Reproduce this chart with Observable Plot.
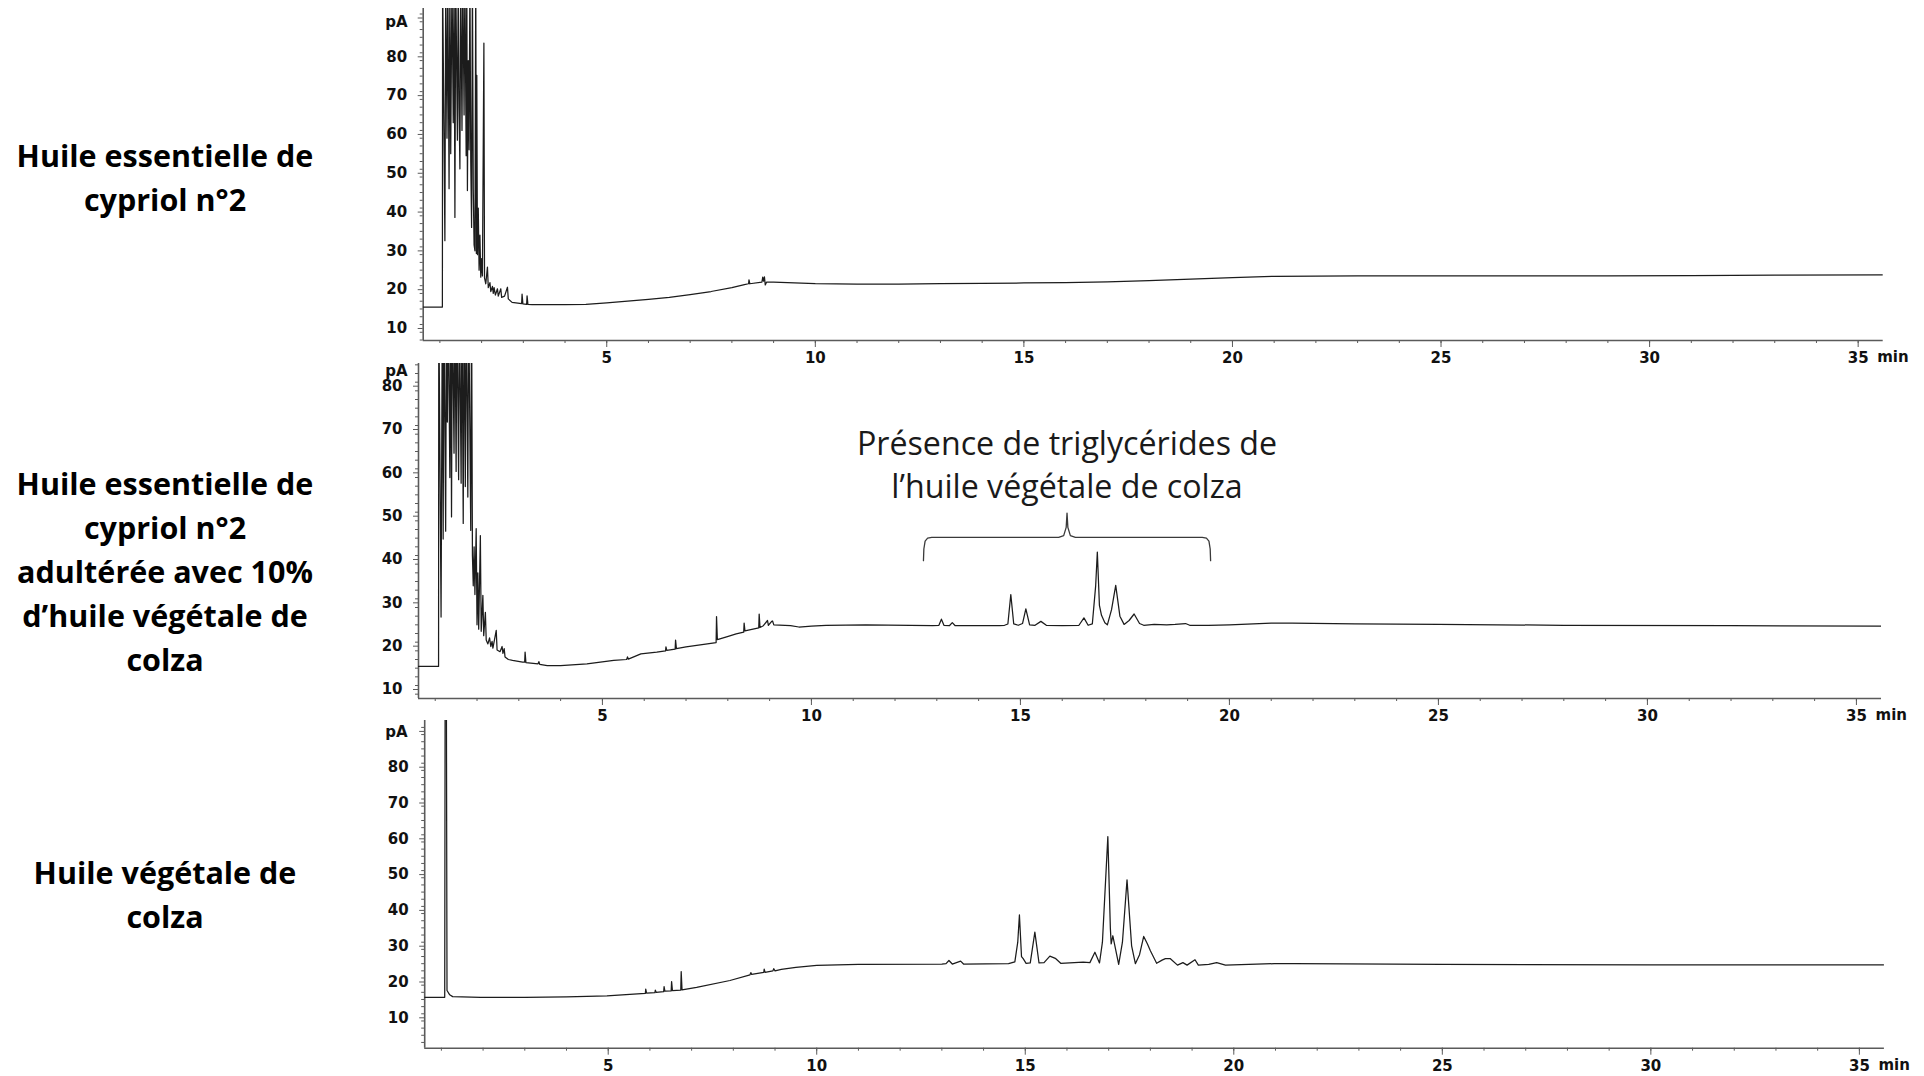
<!DOCTYPE html>
<html><head><meta charset="utf-8">
<script src="https://cdn.jsdelivr.net/npm/d3@7"></script>
<script src="https://cdn.jsdelivr.net/npm/@observablehq/plot@0.6"></script>
<style>
body{margin:0;background:#fff;}
#page{position:relative;width:1924px;height:1076px;overflow:hidden;background:#fff;}
.panel{position:absolute;left:0;}
.title{position:absolute;left:0;width:330px;text-align:center;font-family:"Open Sans",sans-serif;font-weight:700;font-size:30.5px;line-height:44px;color:#000;}
</style></head><body><div id="page"></div>
<script>
// ---- tick labels ----
const xMajorTicks = [5, 10, 15, 20, 25, 30, 35];
const xMinorTicks = d3.range(1, 36, 1);
const yMajorTicks = [10, 20, 30, 40, 50, 60, 70, 80, 90];
const yMinorTicks = d3.range(2, 92, 2);
const timeDomain = [0.6, 35.6]; // min

// ---- titles ----
const titleCypriol = ["Huile essentielle de", "cypriol n°2"];
const titleAdulterated = ["Huile essentielle de", "cypriol n°2", "adultérée avec 10%", "d’huile végétale de", "colza"];
const titleColza = ["Huile végétale de", "colza"];

// ---- annotation ----
const annotationLines = ["Présence de triglycérides de", "l’huile végétale de colza"];
const braceSpan = [12.68, 19.55]; // min

// ---- series: [time (min), signal (pA)] ----
const cypriol = [
[0.6,14.5],[1.06,14.5],[1.065,100],[1.12,31.6],[1.14,100],[1.17,58],[1.19,100],[1.22,45],[1.24,100],[1.26,54],
[1.29,100],[1.32,62],[1.34,100],[1.36,37.6],[1.38,100],[1.42,57.5],[1.44,100],[1.46,66],[1.48,50.1],[1.50,100],
[1.53,60],[1.55,100],[1.58,64],[1.60,100],[1.63,53.5],[1.645,100],[1.66,44.5],[1.68,78],[1.70,55],[1.72,100],
[1.74,52],[1.76,35],[1.78,100],[1.80,45],[1.82,30.5],[1.84,29],[1.86,100],[1.875,28.3],[1.885,74.2],[1.90,28],
[1.92,40],[1.94,24],[1.96,33],[1.98,22.2],[2.00,27],[2.02,22.5],[2.055,82.5],[2.07,22],[2.10,20.5],[2.14,24.8],
[2.16,19.5],[2.20,20.8],[2.22,18.5],[2.26,19.8],[2.28,18.0],[2.30,19.5],[2.33,17.6],[2.38,19.2],[2.40,17.3],[2.46,19.2],
[2.48,17.0],[2.55,17.3],[2.62,19.6],[2.64,16.6],[2.73,15.7],[2.96,15.4],[2.97,17.8],[2.99,15.3],[3.08,15.2],[3.09,17.4],
[3.11,15.2],[3.21,15.15],[3.5,15.1],[4.0,15.1],[4.5,15.2],[5.0,15.6],[5.5,16.0],[6.0,16.5],[6.5,17.0],[7.0,17.7],
[7.5,18.5],[8.0,19.5],[8.3,20.3],[8.40,20.5],[8.41,21.5],[8.43,20.5],[8.72,20.9],[8.74,22.2],[8.76,21.2],[8.78,22.3],
[8.80,20.2],[8.83,20.9],[9.0,20.9],[9.5,20.7],[10,20.5],[11,20.4],[12,20.4],[13,20.5],[14,20.6],[15,20.7],
[16,20.8],[17,21.0],[18,21.3],[19,21.7],[20,22.1],[21,22.4],[23,22.5],[25,22.5],[27,22.5],[29,22.5],
[31,22.6],[33,22.7],[35.6,22.8]
];
const adulterated = [
[0.6,14.4],[1.08,14.4],[1.085,100],[1.14,25.8],[1.17,100],[1.19,43.8],[1.21,100],[1.25,45.6],[1.27,100],[1.29,70.8],
[1.31,100],[1.35,58],[1.37,100],[1.39,48.9],[1.41,100],[1.45,63.6],[1.47,100],[1.50,59.4],[1.52,100],[1.56,57.5],
[1.58,100],[1.62,56.7],[1.64,100],[1.67,47.4],[1.69,100],[1.72,55.9],[1.74,100],[1.78,53.5],[1.80,100],[1.85,45.8],
[1.87,100],[1.89,40],[1.91,33],[1.93,42],[1.95,31],[1.98,46.2],[2.00,24],[2.02,36],[2.04,23],[2.08,44.6],
[2.10,22.5],[2.14,30.8],[2.16,21.5],[2.20,26.9],[2.22,20.5],[2.26,19.6],[2.30,21.0],[2.33,19.0],[2.36,20.2],[2.38,18.6],
[2.46,22.7],[2.48,18.2],[2.55,17.8],[2.60,19.0],[2.62,17.4],[2.65,18.5],[2.67,16.6],[2.75,16.0],[2.85,15.8],[3.09,15.4],
[3.14,15.4],[3.15,17.7],[3.17,15.3],[3.46,15.0],[3.48,15.5],[3.50,14.9],[3.68,14.6],[4.0,14.6],[4.63,15.0],[5.27,15.8],
[5.58,16.0],[5.60,16.6],[5.62,16.1],[5.92,17.3],[6.3,17.7],[6.51,18.0],[6.52,18.9],[6.54,18.1],[6.74,18.4],[6.75,20.5],
[6.77,18.5],[7.0,18.9],[7.51,19.6],[7.72,19.9],[7.73,25.9],[7.75,20.6],[7.99,21.3],[8.20,21.9],[8.38,22.3],[8.39,24.4],
[8.41,22.6],[8.74,23.3],[8.75,26.5],[8.77,23.4],[8.85,23.8],[8.95,25.0],[8.97,23.9],[9.05,24.8],[9.07,24.9],[9.10,24.0],
[9.5,23.8],[9.7,23.5],[10,23.7],[10.35,23.9],[11.3,24.0],[12.9,23.8],[13.05,23.9],[13.11,25.3],[13.17,23.9],[13.3,23.8],
[13.37,24.5],[13.44,23.8],[14.5,23.8],[14.62,23.9],[14.70,24.2],[14.77,31.0],[14.84,24.2],[14.95,23.9],[15.05,24.3],[15.13,27.7],
[15.22,24.0],[15.35,23.9],[15.49,24.8],[15.62,23.9],[16.0,23.8],[16.4,23.9],[16.52,25.6],[16.62,23.9],[16.72,24.2],[16.80,33.0],
[16.84,40.8],[16.89,28.5],[16.94,26.2],[17.02,24.5],[17.08,24.0],[17.18,27.5],[17.28,33.1],[17.38,26.0],[17.48,24.1],[17.60,25.0],
[17.72,26.5],[17.85,24.3],[17.95,23.9],[18.2,24.1],[18.5,24.0],[18.7,24.1],[18.95,24.3],[19.05,23.9],[19.5,23.9],[20.0,24.0],
[21.0,24.4],[21.5,24.4],[23,24.2],[25,24.1],[28,23.9],[32,23.8],[35.6,23.7]
];
const colza = [
[0.6,14.6],[1.08,14.6],[1.09,100],[1.12,100],[1.135,16.5],[1.2,15.3],[1.27,14.8],[1.94,14.6],[3.0,14.6],[4.0,14.7],
[4.97,15.0],[5.61,15.5],[5.89,15.7],[5.90,16.9],[5.92,15.8],[6.12,15.9],[6.13,16.6],[6.15,16.0],[6.33,16.2],[6.34,17.6],
[6.36,16.3],[6.51,16.4],[6.52,19.0],[6.54,16.5],[6.74,16.6],[6.75,21.8],[6.77,16.7],[7.12,17.4],[7.92,19.3],[8.4,20.9],
[8.42,21.5],[8.44,21.0],[8.73,21.6],[8.74,22.5],[8.76,21.6],[8.95,22.0],[8.97,22.6],[9.0,22.0],[9.15,22.4],[9.5,23.0],
[10.0,23.5],[11,23.8],[13,23.9],[13.1,24.0],[13.17,24.9],[13.25,23.9],[13.45,24.7],[13.52,23.9],[14.6,24.0],[14.75,24.5],
[14.82,30],[14.86,37.6],[14.91,26],[14.95,25.4],[15.02,24.1],[15.12,24.2],[15.23,32.8],[15.33,24.2],[15.45,24.3],[15.59,26.1],
[15.72,25.5],[15.85,24.1],[16.39,24.4],[16.55,24.3],[16.67,27.2],[16.78,24.2],[16.85,30],[16.98,59.5],[17.04,34],[17.06,29.5],
[17.10,31.8],[17.24,23.8],[17.33,30],[17.44,47.4],[17.55,29],[17.64,24.0],[17.74,26.5],[17.84,31.6],[17.93,29.5],[18.00,27.6],
[18.15,24.1],[18.28,25.0],[18.36,25.4],[18.48,25.4],[18.65,23.6],[18.78,24.3],[18.88,23.6],[19.07,25.1],[19.15,23.6],[19.4,23.8],
[19.59,24.3],[19.8,23.6],[20.97,24.0],[21.45,24.0],[25,23.8],[30,23.7],[35.6,23.7]
];

// ---- layout ----
const page = document.getElementById("page");
const axisColor = "#5a5a5a";
const panels = [
  {series: cypriol, title: titleCypriol, titleTop: 133, top: 0, height: 372, mt: 8, mb: 32, ml: 422.7, mr: 41.3, y: [5.877, 91.42], pAdy: 14},
  {series: adulterated, title: titleAdulterated, titleTop: 461, top: 345, height: 385, mt: 18, mb: 32, ml: 418, mr: 43, y: [7.0, 84.31], pAdy: 8, annotate: true},
  {series: colza, title: titleColza, titleTop: 850, top: 705, height: 371, mt: 15, mb: 28.3, ml: 424.2, mr: 40.1, y: [0.39, 91.93], pAdy: 12}
];

for (const p of panels) {
  const marks = [
    Plot.axisY(yMinorTicks.filter(v => v >= p.y[0] && v <= p.y[1]), {tickSize: 3, tickFormat: () => "", stroke: axisColor, label: null}),
    Plot.axisY(yMajorTicks.filter(v => v >= p.y[0] && v <= p.y[1]), {tickSize: 5, tickPadding: 11, dy: 4, stroke: axisColor, label: null, tickFormat: v => v === 90 ? "" : String(v)}),
    Plot.axisX(xMinorTicks, {tickSize: 3, tickFormat: () => "", stroke: axisColor, label: null}),
    Plot.axisX(xMajorTicks, {tickSize: 7, tickPadding: 5, stroke: axisColor, label: null}),
    Plot.ruleY([p.y[0]], {stroke: axisColor, strokeWidth: 1.6}),
    Plot.ruleX([timeDomain[0]], {stroke: axisColor, strokeWidth: 1.6}),
    Plot.line(p.series, {x: d => d[0], y: d => d[1], stroke: "#1c1c1c", strokeWidth: 1.25, clip: true}),
    Plot.text(["pA"], {text: d => d, frameAnchor: "top-left", textAnchor: "middle", lineAnchor: "middle", dx: 396 - p.ml, dy: p.pAdy}),
    Plot.text(["min"], {text: d => d, frameAnchor: "bottom-right", textAnchor: "start", lineAnchor: "middle", dx: -6, dy: 17})
  ];
  if (p.annotate) {
    const [b0, b1] = braceSpan;
    const mid = (b0 + b1) / 2;
    const lo = 38.8, bar = 44.2, tip = 49.8;
    const brace = [
      [b0, lo], [b0 + 0.01, 41.5], [b0 + 0.04, 43.3], [b0 + 0.1, 44.0], [b0 + 0.2, bar],
      [mid - 0.2, bar], [mid - 0.08, 44.6], [mid - 0.02, 46.5], [mid, tip], [mid + 0.02, 46.5], [mid + 0.08, 44.6], [mid + 0.2, bar],
      [b1 - 0.2, bar], [b1 - 0.1, 44.0], [b1 - 0.04, 43.3], [b1 - 0.01, 41.5], [b1, lo]
    ];
    marks.push(Plot.line(brace, {x: d => d[0], y: d => d[1], stroke: "#3a3a3a", strokeWidth: 1.3}));
    marks.push(Plot.text([annotationLines.join("\n")], {
      text: d => d, x: () => mid, y: () => 61.5, textAnchor: "middle", lineAnchor: "middle",
      fontFamily: "'Open Sans', sans-serif", fontWeight: "normal", fontSize: 32.2, lineHeight: 1.335, fill: "#1a1a1a"
    }));
  }
  const svg = Plot.plot({
    width: 1924, height: p.height,
    marginTop: p.mt, marginBottom: p.mb, marginLeft: p.ml, marginRight: p.mr,
    x: {domain: timeDomain, label: null},
    y: {domain: p.y, label: null},
    style: {background: "transparent", fontFamily: "'DejaVu Sans', sans-serif", fontSize: "15px", fontWeight: "bold", color: "#111", overflow: "visible"},
    marks
  });
  svg.classList.add("panel");
  svg.style.top = p.top + "px";
  page.appendChild(svg);

  const t = document.createElement("div");
  t.className = "title";
  t.style.top = p.titleTop + "px";
  t.innerHTML = p.title.join("<br>");
  page.appendChild(t);
}
</script></body></html>
